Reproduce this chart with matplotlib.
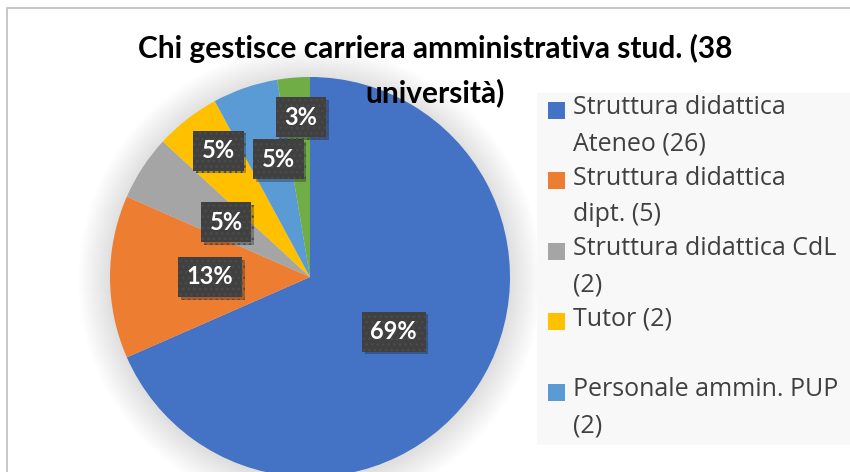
import numpy as np
import matplotlib
matplotlib.use("Agg")
import matplotlib.pyplot as plt
from matplotlib.patches import Rectangle, Circle
import matplotlib.patheffects as pe

W, H = 850, 472

# dati
categorie = ["Struttura didattica\nAteneo (26)", "Struttura didattica\ndipt. (5)",
             "Struttura didattica CdL\n(2)", "Tutor (2)\n ", "Personale ammin. PUP\n(2)", "Altro (1)"]
valori = [26, 5, 2, 2, 2, 1]
etichette = ["69%", "13%", "5%", "5%", "5%", "3%"]
colori = ["#4472C4", "#ED7D31", "#A5A5A5", "#FFC000", "#5B9BD5", "#70AD47"]
titolo = "Chi gestisce carriera amministrativa stud. (38\nuniversità)"

fig = plt.figure(figsize=(8.5, 4.72), dpi=100, facecolor="white")
ax = fig.add_axes([0, 0, 1, 1])

cx, cy, R = 310, H - 277, 200

# ombra morbida attorno alla torta
for k in range(1, 33):
    ax.add_patch(Circle((cx, cy - 2), R + k, color="black", alpha=0.0055, lw=0, zorder=0))

wedges, _ = ax.pie(valori, colors=colori, startangle=90, counterclock=False,
                   center=(cx, cy), radius=R, wedgeprops=dict(linewidth=0))

ax.set_xlim(0, W)
ax.set_ylim(0, H)
ax.set_aspect("equal")
ax.axis("off")

# etichette percentuali
frac = [0.5, 0.5, 0.5, 0.78, 0.61, 0.8]
dang = [0, 0, 0, -2, -4, -1.5]
for w, lab, f, d in zip(wedges, etichette, frac, dang):
    th = np.deg2rad((w.theta1 + w.theta2) / 2 + d)
    x = cx + f * R * np.cos(th)
    y = cy + f * R * np.sin(th)
    t = ax.text(x, y, lab, ha="center", va="center", color="white", fontsize=17,
                fontweight="bold", family="Lato", zorder=5,
                bbox=dict(boxstyle="square,pad=0.36", fc="#404040", ec="#4b4b4b", lw=0, hatch="..."))
    t.get_bbox_patch().set_path_effects([pe.SimplePatchShadow(offset=(2, -2), alpha=0.3), pe.Normal()])

# titolo
ax.text(435, H - 34, titolo, ha="center", va="top", fontsize=21.5, fontweight="bold",
        family="Lato", linespacing=1.62, multialignment="center", color="black", zorder=6)

# legenda
ax.add_patch(Rectangle((537, H - 445), 340, 352, fc="#F8F8F8", ec="none", zorder=1))
for i in range(5):
    yc = 110.5 + i * 70.4
    ax.add_patch(Rectangle((548, H - yc - 8.5), 17, 17, fc=colori[i], ec="none", zorder=2))
    ax.text(573, H - yc + 15, categorie[i], ha="left", va="top", fontsize=18,
            family="Open Sans", color="#404040", linespacing=1.6, zorder=2)

# bordo del grafico
ax.add_patch(Rectangle((7.5, -20), 900, H - 8 + 20, fill=False, ec="#BFBFBF", lw=1.2, zorder=7))

fig.savefig("out.png", dpi=100)
